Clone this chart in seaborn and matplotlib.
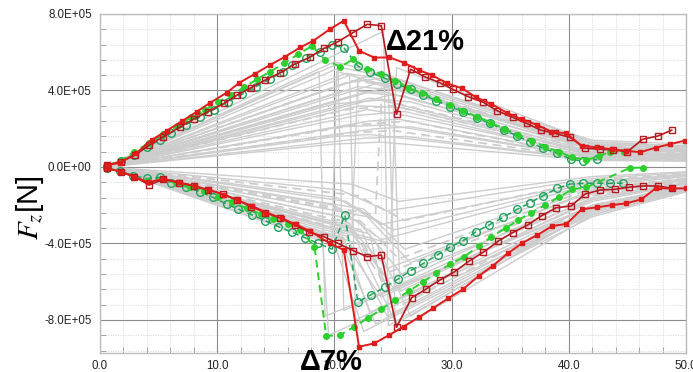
import numpy as np
import pandas as pd
import matplotlib
matplotlib.use("Agg")
import matplotlib.pyplot as plt
import seaborn as sns
from matplotlib.ticker import MultipleLocator, FuncFormatter

# ---------------------------------------------------------------------------
# Vertical tyre force Fz versus time step; values in units of 1e5 N
# ---------------------------------------------------------------------------
SCALE = 1e5

# Highlighted runs: upper (positive) and lower (negative) branches
red_fill_up_x = [0.6, 1.7, 3.1, 4.4, 5.7, 7.0, 8.25, 9.4, 10.8, 11.9, 13.2, 14.5, 15.8, 17.1,
                 18.2, 19.6, 20.8, 22.1, 23.4, 24.7, 25.9, 27.2, 28.3, 29.6, 30.9, 32.1, 33.4,
                 34.7, 36.0, 37.3, 38.5, 39.8, 41.1, 42.4, 43.7, 44.9, 46.1, 47.4, 48.6, 49.9]
red_fill_up_y = [0.1, 0.22, 0.72, 1.41, 1.9, 2.4, 2.89, 3.36, 3.88, 4.41, 4.86, 5.33, 5.77, 6.26,
                 6.6, 7.2, 7.65, 6.08, 5.72, 5.73, 5.46, 5.07, 4.81, 4.38, 4.11, 3.64, 3.29,
                 2.84, 2.49, 2.2, 1.85, 1.76, 1.10, 1.03, 0.92, 0.85, 0.77, 1.01, 1.19, 1.38]

red_open_up_x = [0.6, 1.8, 3.0, 4.2, 5.4, 6.8, 8.0, 9.2, 10.6, 11.7, 12.9, 14.1, 15.4, 16.6,
                 17.9, 19.1, 20.3, 21.6, 22.8, 24.0, 25.3, 26.5, 27.7, 29.0, 30.1, 31.4, 32.7,
                 33.9, 35.2, 36.4, 37.6, 38.8, 40.1, 41.4, 42.7, 43.8, 45.0, 46.3, 47.6, 48.8]
red_open_up_y = [0.1, 0.28, 0.62, 1.15, 1.58, 2.08, 2.51, 2.89, 3.33, 3.76, 4.15, 4.55, 4.93, 5.37,
                 5.74, 6.2, 6.55, 7.03, 7.46, 7.39, 2.76, 5.11, 4.72, 4.41, 4.06, 3.68, 3.38,
                 2.94, 2.6, 2.28, 1.93, 1.76, 1.55, 0.98, 0.93, 0.89, 0.8, 1.45, 1.62, 1.93]

green_fill_up_x = [0.6, 1.7, 2.9, 4.2, 5.4, 6.6, 7.8, 9.0, 10.1, 11.2, 12.3, 13.4, 14.5, 15.7,
                   16.9, 18.1, 19.2, 20.5, 21.6, 22.8, 24.0, 25.2, 26.3, 27.5, 28.7, 29.9, 31.0,
                   32.2, 33.4, 34.5, 35.7, 36.9, 38.0, 39.2, 40.3, 41.5, 42.6, 43.5, 44.7]
green_fill_up_y = [0.1, 0.3, 0.8, 1.25, 1.7, 2.15, 2.6, 3.0, 3.4, 3.78, 4.17, 4.59, 4.98, 5.42,
                   5.89, 6.34, 5.6, 5.24, 5.63, 5.15, 4.86, 4.5, 4.15, 3.85, 3.55, 3.25, 2.95,
                   2.62, 2.3, 2.0, 1.68, 1.38, 1.05, 0.78, 0.5, 0.38, 0.55, 0.8, 0.8]

green_open_up_x = [0.6, 1.8, 2.9, 4.0, 5.1, 6.1, 7.3, 8.5, 9.7, 10.9, 12.1, 13.3, 14.5, 15.6,
                   16.4, 17.6, 18.8, 19.8, 20.8, 22.0, 23.0, 24.3, 25.3, 26.5, 27.6, 28.7, 29.9,
                   31.0, 32.2, 33.3, 34.5, 35.6, 36.7, 37.8, 39.0, 40.2, 41.2, 42.4]
green_open_up_y = [0.05, 0.3, 0.65, 1.03, 1.41, 1.79, 2.2, 2.6, 3.0, 3.4, 3.8, 4.2, 4.6, 4.98,
                   5.33, 5.68, 6.0, 6.38, 6.24, 5.28, 4.98, 4.64, 4.34, 4.06, 3.76, 3.47, 3.15,
                   2.89, 2.55, 2.28, 1.93, 1.62, 1.32, 0.98, 0.72, 0.40, 0.31, 0.40]

red_fill_lo_x = [0.6, 1.7, 2.9, 4.1, 5.4, 6.7, 8.1, 9.3, 10.6, 11.8, 13.0, 14.2, 15.5, 16.7,
                 17.9, 19.6, 20.8, 22.1, 23.4, 24.7, 25.9, 27.2, 28.4, 29.7, 31.0, 32.3, 33.5,
                 34.8, 36.0, 37.3, 38.6, 39.8, 41.1, 42.4, 43.7, 44.9, 46.2, 47.4, 48.8, 50.0]
red_fill_lo_y = [-0.07, -0.24, -0.5, -0.8, -0.62, -0.8, -1.0, -1.2, -1.45, -1.75, -2.05, -2.38,
                 -2.68, -3.0, -3.35, -3.99, -4.34, -9.4, -9.22, -8.78, -8.35, -7.86, -7.39,
                 -6.87, -6.38, -5.7, -5.18, -4.51, -3.99, -3.56, -3.08, -2.98, -2.21, -2.11,
                 -1.99, -1.9, -1.69, -1.12, -1.12, -1.12]

red_open_lo_x = [0.6, 1.8, 2.9, 4.2, 5.4, 6.7, 8.0, 9.2, 10.5, 11.7, 12.9, 14.1, 15.4, 16.6,
                 17.8, 19.1, 20.3, 21.6, 22.8, 24.0, 25.3, 26.6, 27.8, 29.0, 30.2, 31.5, 32.7,
                 34.0, 35.2, 36.5, 37.7, 38.9, 40.2, 41.4, 42.7, 43.9, 45.1, 46.3, 47.6, 48.8]
red_open_lo_y = [-0.07, -0.24, -0.5, -0.94, -0.64, -0.82, -0.99, -1.2, -1.41, -1.73, -2.07,
                 -2.39, -2.68, -3.03, -3.38, -3.64, -3.99, -4.37, -4.69, -4.6, -8.38, -6.83,
                 -6.39, -5.91, -5.5, -4.92, -4.46, -3.87, -3.43, -3.03, -2.54, -2.13, -2.04,
                 -1.41, -1.2, -1.17, -1.06, -0.99, -0.99, -1.12]

green_fill_lo_x = [0.6, 1.7, 2.9, 4.1, 5.3, 6.5, 7.7, 8.9, 10.1, 11.3, 12.5, 13.7, 14.8, 16.0,
                   17.1, 18.3, 19.3, 20.5, 21.7, 22.9, 24.0, 25.2, 26.4, 27.6, 28.7, 29.9, 31.1,
                   32.3, 33.4, 34.6, 35.7, 36.8, 38.0, 39.2, 40.3, 41.5, 45.2, 46.3]
green_fill_lo_y = [-0.05, -0.25, -0.5, -0.75, -0.62, -0.85, -1.05, -1.28, -1.55, -1.85, -2.15,
                   -2.45, -2.72, -3.0, -3.29, -4.17, -8.84, -8.78, -8.35, -7.88, -7.44, -6.95,
                   -6.47, -6.0, -5.53, -5.07, -4.69, -4.13, -3.65, -3.2, -2.77, -2.39, -1.99,
                   -1.55, -1.17, -1.06, -0.05, -0.03]

green_open_lo_x = [0.6, 1.7, 2.8, 4.0, 5.1, 6.1, 7.3, 8.5, 9.6, 10.8, 11.8, 13.0, 14.1, 15.2,
                   16.4, 17.5, 18.6, 19.8, 20.9, 22.0, 23.1, 24.3, 25.4, 26.5, 27.6, 28.8, 29.9,
                   31.0, 32.1, 33.2, 34.4, 35.6, 36.7, 37.8, 39.0, 40.1, 41.2, 42.4, 43.5, 44.6]
green_open_lo_y = [-0.05, -0.22, -0.45, -0.6, -0.54, -0.82, -1.03, -1.29, -1.58, -1.93, -2.2,
                   -2.51, -2.81, -3.12, -3.42, -3.7, -3.99, -4.3, -2.51, -7.04, -6.69, -6.29,
                   -5.87, -5.42, -5.04, -4.6, -4.17, -3.85, -3.38, -3.03, -2.63, -2.21, -1.87,
                   -1.5, -1.12, -0.89, -0.85, -0.85, -0.85, -0.85]

# Background runs: each polyline goes (0.5, 0) -> (xa, ya) -> (xb, yb) -> (42, yk) -> (50, ye)
gray_xa = [20.0, 20.5, 21.0, 21.5, 22.0, 22.5, 23.0, 20.0, 21.0, 22.0, 23.0, 20.5, 21.5, 22.5,
           20.0, 21.0, 24.0, 23.5, 20.8, 22.2, 21.8, 23.8, 20.2, 22.8,
           20.0, 20.5, 21.0, 21.5, 20.0, 21.0, 22.0, 20.5, 21.5, 22.5, 20.0, 21.0, 22.0, 20.5,
           21.5, 19.0, 22.0, 23.0, 20.8, 22.3, 21.2, 22.8, 20.2, 23.5,
           20.3, 21.3, 24.2, 24.6, 18.7, 19.8, 21.5, 24.8, 25.0, 23.5]
gray_ya = [5.5, 5.2, 4.9, 4.5, 4.2, 3.9, 3.6, 3.3, 3.0, 2.7, 2.4, 2.1, 1.8, 1.5,
           1.2, 4.4, 5.0, 2.0, 4.0, 3.2, 2.2, 4.4, 1.6, 3.0,
           -4.0, -3.8, -3.6, -3.4, -3.2, -3.0, -2.8, -2.6, -2.4, -2.2, -2.0, -1.8, -1.5, -1.2,
           -0.9, -3.9, -4.0, -3.5, -3.7, -3.3, -2.9, -2.6, -1.6, -3.9,
           5.4, 4.8, 7.1, 4.2, 5.0, -3.8, -3.2, -4.0, 3.8, -2.5]
gray_xb = [22.0, 23.0, 24.0, 25.0, 25.5, 26.0, 26.5, 24.0, 25.0, 26.0, 25.5, 24.5, 25.0, 26.0,
           24.0, 23.5, 25.0, 26.5, 24.5, 25.8, 26.3, 26.8, 23.0, 26.0,
           22.5, 23.5, 24.5, 25.5, 24.0, 25.0, 26.0, 24.5, 25.5, 26.0, 24.0, 25.0, 26.0, 24.5,
           25.5, 19.5, 25.5, 24.0, 23.0, 25.0, 24.2, 26.5, 24.0, 26.5,
           20.8, 21.8, 24.6, 25.2, 19.2, 20.2, 22.0, 25.3, 25.6, 24.0]
gray_yb = [5.2, 4.9, 4.6, 4.3, 4.0, 3.7, 3.4, 3.5, 3.2, 2.9, 2.5, 2.2, 1.9, 1.6,
           1.3, 4.6, 4.7, 2.1, 3.9, 3.1, 2.4, 3.9, 1.7, 2.7,
           -8.6, -8.2, -7.8, -7.3, -6.8, -6.3, -5.8, -5.3, -4.8, -4.3, -3.8, -3.3, -2.8, -2.3,
           -1.8, -8.8, -8.5, -6.0, -7.6, -7.0, -5.6, -5.0, -3.0, -7.8,
           -7.5, -8.0, -8.3, -8.2, -7.8, 5.0, 4.6, 5.2, -6.5, 3.5]
gray_yk = [1.4, 1.3, 1.2, 1.1, 1.0, 0.9, 0.8, 0.75, 0.7, 0.6, 0.55, 0.5, 0.45, 0.4,
           0.35, 1.0, 1.2, 0.5, 0.95, 0.7, 0.5, 0.9, 0.4, 0.65,
           -2.6, -2.4, -2.2, -2.0, -1.8, -1.6, -1.4, -1.3, -1.1, -1.0, -0.9, -0.8, -0.7, -0.6,
           -0.5, -2.5, -2.5, -1.7, -2.3, -2.0, -1.5, -1.2, -0.75, -2.2,
           -2.0, -2.2, -2.1, -2.3, -2.1, 1.2, 1.1, 1.3, -1.7, 0.9]
gray_ye = [1.2, 1.1, 1.0, 0.95, 0.9, 0.8, 0.7, 0.65, 0.6, 0.55, 0.5, 0.45, 0.4, 0.35,
           0.3, 0.9, 1.05, 0.45, 0.85, 0.6, 0.45, 0.8, 0.35, 0.6,
           -1.3, -1.2, -1.1, -1.0, -0.9, -0.8, -0.7, -0.65, -0.6, -0.5, -0.45, -0.4, -0.35, -0.3,
           -0.25, -1.25, -1.2, -0.85, -1.15, -1.0, -0.75, -0.6, -0.4, -1.1,
           -1.0, -1.1, -1.05, -1.15, -1.05, 1.0, 0.9, 1.1, -0.85, 0.75]
gray_dashed = [3, 8, 12, 20, 27, 32, 36, 44, 57]

# Axis settings
x_limits = (0.0, 50.0)
y_limits = (-9.71, 8.0)
x_major, x_minor = 10.0, 2.0
y_major, y_minor = 4.0, 0.8

# ---------------------------------------------------------------------------
sns.set_theme(style="white")
plt.rcParams["font.family"] = ["Liberation Sans", "DejaVu Sans"]
plt.rcParams["mathtext.fontset"] = "stix"

W, H = 693, 372
fig = plt.figure(figsize=(W / 100, H / 100), dpi=100)
ax = fig.add_axes([100 / W, 1 - 352.7 / H, 586 / W, (352.7 - 14) / H])

# background family of runs
rows = []
for i in range(len(gray_xa)):
    xs = [0.5, gray_xa[i], gray_xb[i], 42.0, 50.0]
    ys = [0.0, gray_ya[i], gray_yb[i], gray_yk[i], gray_ye[i]]
    for order, (xv, yv) in enumerate(zip(xs, ys)):
        rows.append({"run": i, "order": order, "t": xv, "Fz": yv * SCALE,
                     "dashed": i in gray_dashed})
gray_df = pd.DataFrame(rows)

sns.lineplot(data=gray_df[~gray_df["dashed"]], x="t", y="Fz", units="run",
             estimator=None, sort=False, color="#cdcdcd", linewidth=1.0, ax=ax,
             legend=False, zorder=2)
sns.lineplot(data=gray_df[gray_df["dashed"]], x="t", y="Fz", units="run",
             estimator=None, sort=False, color="#cdcdcd", linewidth=1.3, ax=ax,
             legend=False, zorder=2, dashes=False, linestyle=(0, (5, 3)))

RED = "#e01b1b"
DARK_RED = "#b3191f"
GREEN = "#2ccf2c"
TEAL_GREEN = "#1fa35c"


def draw_run(xs, ys, color, marker, ms, filled, ls, lw, z):
    sns.lineplot(x=np.asarray(xs), y=np.asarray(ys) * SCALE, ax=ax, sort=False,
                 estimator=None, color=color, linewidth=lw, linestyle=ls,
                 marker=marker, markersize=ms,
                 markerfacecolor=color if filled else "none",
                 markeredgecolor=color, markeredgewidth=1.0, zorder=z)


dash = (0, (4, 2.5))
draw_run(green_open_up_x, green_open_up_y, TEAL_GREEN, "o", 5.5, False, dash, 1.1, 4)
draw_run(green_open_lo_x, green_open_lo_y, TEAL_GREEN, "o", 5.5, False, dash, 1.1, 4)
draw_run(green_fill_up_x, green_fill_up_y, GREEN, "o", 4.0, True, dash, 1.4, 5)
draw_run(green_fill_lo_x, green_fill_lo_y, GREEN, "o", 4.0, True, dash, 1.4, 5)
draw_run(red_open_up_x, red_open_up_y, DARK_RED, "s", 4.8, False, "-", 1.2, 6)
draw_run(red_open_lo_x, red_open_lo_y, DARK_RED, "s", 4.8, False, "-", 1.2, 6)
draw_run(red_fill_up_x, red_fill_up_y, RED, "s", 3.3, True, "-", 1.4, 7)
draw_run(red_fill_lo_x, red_fill_lo_y, RED, "s", 3.3, True, "-", 1.4, 7)

# axes, grid and ticks
ax.set_xlim(*x_limits)
ax.set_ylim(y_limits[0] * SCALE, y_limits[1] * SCALE)
ax.xaxis.set_major_locator(MultipleLocator(x_major))
ax.xaxis.set_minor_locator(MultipleLocator(x_minor))
ax.yaxis.set_major_locator(MultipleLocator(y_major * SCALE))
ax.yaxis.set_minor_locator(MultipleLocator(y_minor * SCALE))
ax.xaxis.set_major_formatter(FuncFormatter(lambda v, p: f"{v:.1f}"))
ax.yaxis.set_major_formatter(FuncFormatter(lambda v, p: f"{v:.1E}"))

ax.set_axisbelow(True)
ax.grid(which="major", color="#8c8c8c", linewidth=0.8, linestyle="-")
ax.grid(which="minor", color="#d9d9d9", linewidth=0.6, linestyle=(0, (1.5, 1.5)))
ax.tick_params(which="major", length=0, labelsize=8.3, labelcolor="#222222")
ax.tick_params(axis="x", which="major", pad=5)
ax.tick_params(axis="y", which="major", pad=6)
ax.tick_params(which="minor", direction="in", length=4, width=0.6, color="#9a9a9a",
               bottom=True, left=True)
for sp in ax.spines.values():
    sp.set_color("#bdbdbd")
    sp.set_linewidth(1.0)
ax.set_xlabel("")
ax.set_ylabel("")

# labels and annotations
fig.text(30 / W, 1 - 208 / H, r"$F_z$[N]", rotation=90, fontsize=21,
         ha="center", va="center", color="black")
fig.text(386 / W, 1 - 50 / H, "Δ21%", fontsize=21, fontweight="bold",
         ha="left", va="baseline", color="black")
fig.text(300 / W, 1 - 370 / H, "Δ7%", fontsize=21, fontweight="bold",
         ha="left", va="baseline", color="black")

fig.savefig("out.png", dpi=100)
